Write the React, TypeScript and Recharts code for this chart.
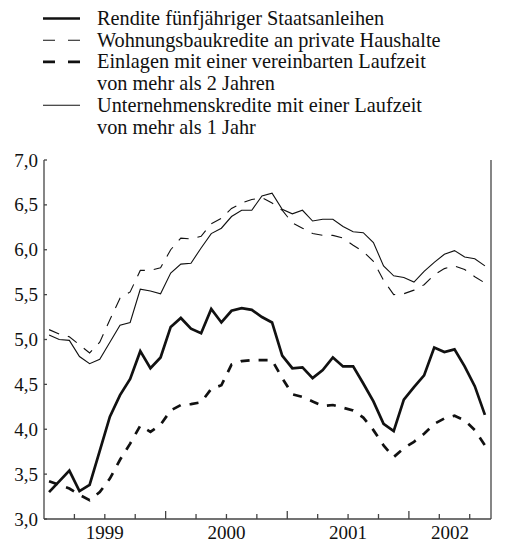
import React from 'react';
import { LineChart, Line, XAxis, YAxis, Legend } from 'recharts';

// monthly values, Jan 1999 .. Aug 2002 (percent p.a.)
const rendite = [
  3.3, 3.42, 3.54, 3.31, 3.38, 3.76, 4.14, 4.38, 4.56, 4.87, 4.68, 4.8,
  5.14, 5.24, 5.12, 5.07, 5.34, 5.19, 5.32, 5.35, 5.33, 5.25, 5.19, 4.82,
  4.68, 4.69, 4.57, 4.66, 4.8, 4.7, 4.7, 4.51, 4.31, 4.06, 3.98, 4.33,
  4.47, 4.6, 4.91, 4.86, 4.89, 4.7, 4.48, 4.16,
];
const wohnungsbau = [
  5.11, 5.06, 5.03, 4.94, 4.85, 4.97, 5.22, 5.46, 5.53, 5.77, 5.77, 5.8,
  6.0, 6.13, 6.12, 6.15, 6.29, 6.35, 6.46, 6.52, 6.56, 6.58, 6.52, 6.44,
  6.3, 6.24, 6.18, 6.16, 6.16, 6.13, 6.05, 5.98, 5.87, 5.66, 5.5, 5.51,
  5.55, 5.61, 5.72, 5.79, 5.82, 5.78, 5.7, 5.63,
];
const einlagen = [
  3.42, 3.38, 3.34, 3.27, 3.21, 3.3, 3.45, 3.66, 3.84, 4.04, 3.97, 4.05,
  4.21, 4.27, 4.28, 4.3, 4.45, 4.49, 4.72, 4.76, 4.77, 4.77, 4.77, 4.57,
  4.39, 4.36, 4.31, 4.26, 4.27, 4.24, 4.21, 4.13, 3.99, 3.82, 3.69, 3.79,
  3.86, 3.95, 4.06, 4.12, 4.15, 4.1, 3.99, 3.82,
];
const unternehmen = [
  5.05, 5.0, 4.99, 4.81, 4.73, 4.78, 4.97, 5.16, 5.19, 5.56, 5.54, 5.51,
  5.74, 5.84, 5.85, 6.02, 6.18, 6.24, 6.37, 6.44, 6.44, 6.6, 6.63, 6.45,
  6.4, 6.44, 6.32, 6.34, 6.34, 6.26, 6.2, 6.19, 6.08, 5.82, 5.71, 5.69,
  5.64, 5.76, 5.86, 5.95, 5.99, 5.92, 5.9, 5.82,
];

const years = ['1999', '2000', '2001', '2002'];
const yTicks = [3, 3.5, 4, 4.5, 5, 5.5, 6, 6.5, 7];

const X_MAX = 44.1; // axis runs a little past the last month
const FONT = "'Liberation Serif', 'Times New Roman', Times, 'DejaVu Serif', serif";
const INK = '#111';
const AXIS = '#444';

const series = [
  { key: 'rendite', name: 'Rendite fünfjähriger Staatsanleihen', width: 2.7, dash: undefined as string | undefined },
  { key: 'wohnungsbau', name: 'Wohnungsbaukredite an private Haushalte', width: 1.1, dash: '11 9' },
  { key: 'einlagen', name: 'Einlagen mit einer vereinbarten Laufzeit\nvon mehr als 2 Jahren', width: 2.7, dash: '9 9' },
  { key: 'unternehmen', name: 'Unternehmenskredite mit einer Laufzeit\nvon mehr als 1 Jahr', width: 1.1, dash: undefined },
];

const data = rendite.map((v, i) => ({
  t: i + 0.5,
  rendite: v,
  wohnungsbau: wohnungsbau[i],
  einlagen: einlagen[i],
  unternehmen: unternehmen[i],
}));

const quarterTicks: number[] = [];
for (let q = 3; q < X_MAX; q += 3) quarterTicks.push(q);
const yearPos = years.map((_, i) => {
  const start = i * 12;
  const end = Math.min(start + 12, X_MAX);
  return (start + end) / 2;
});

const textStyle = { fontFamily: FONT, fill: INK };

function XTick(props: any) {
  const { x, y, payload } = props;
  const v = payload.value;
  const yi = yearPos.indexOf(v);
  return (
    <g>
      {quarterTicks.includes(v) && (
        <line x1={x} x2={x} y1={y} y2={y - (v % 12 === 0 ? 8 : 5)} stroke={AXIS} strokeWidth={1.3} />
      )}
      {yi >= 0 && (
        <text x={x} y={y + 20} textAnchor="middle" fontSize={19} style={textStyle}>
          {years[yi]}
        </text>
      )}
    </g>
  );
}

const fmt = (v: number) => v.toFixed(1).replace('.', ',');

function LeftTick(props: any) {
  const { x, y, payload } = props;
  return (
    <g>
      <line x1={x} x2={x + 3} y1={y} y2={y} stroke={AXIS} strokeWidth={1.3} />
      <text x={x - 6} y={y + 6.5} textAnchor="end" fontSize={19} style={textStyle}>
        {fmt(payload.value)}
      </text>
    </g>
  );
}

function RightTick(props: any) {
  const { x, y, payload } = props;
  return (
    <g>
      <line x1={x} x2={x - 3} y1={y} y2={y} stroke={AXIS} strokeWidth={1.3} />
      <text x={x + 6} y={y + 6.5} textAnchor="start" fontSize={19} style={textStyle}>
        {fmt(payload.value)}
      </text>
    </g>
  );
}

function LegendBlock(props: any) {
  const { payload = [] } = props;
  const shown = new Set(payload.map((p: any) => p.dataKey));
  const rowH = 21.7;
  let line = 0;
  return (
    <svg width={528} height={140} style={{ display: 'block' }}>
      {series.filter((s) => shown.has(s.key)).map((s) => {
        const parts = s.name.split('\n');
        const cy = 18.5 + line * rowH;
        line += parts.length;
        return (
          <g key={s.key}>
            <line x1={43} x2={80} y1={cy} y2={cy} stroke={INK} strokeWidth={s.width}
              strokeDasharray={s.dash ? '12 13' : undefined} />
            {parts.map((p, k) => (
              <text key={k} x={97} y={cy + k * rowH + 6.5} fontSize={20.3} style={textStyle}>
                {p}
              </text>
            ))}
          </g>
        );
      })}
    </svg>
  );
}

export default function App() {
  return (
    <div style={{ position: 'absolute', left: 0, top: 0, width: 528, height: 542, background: '#fff', fontFamily: FONT }}>
      <LineChart width={528} height={542} data={data} margin={{ top: 160, right: 0, bottom: 0, left: 0 }}>
        <XAxis
          dataKey="t"
          type="number"
          domain={[0, X_MAX]}
          ticks={[...quarterTicks, ...yearPos.filter((p) => !quarterTicks.includes(p))]}
          interval={0}
          height={23}
          tickSize={0}
          tickMargin={0}
          tickLine={false}
          axisLine={{ stroke: AXIS, strokeWidth: 1.3 }}
          tick={<XTick />}
        />
        <YAxis
          yAxisId="left"
          domain={[3, 7]}
          ticks={yTicks}
          interval={0}
          width={44}
          tickSize={0}
          tickMargin={0}
          tickLine={false}
          axisLine={{ stroke: AXIS, strokeWidth: 1.3 }}
          tick={<LeftTick />}
        />
        <YAxis
          yAxisId="right"
          orientation="right"
          domain={[3, 7]}
          ticks={yTicks}
          interval={0}
          width={37}
          tickSize={0}
          tickMargin={0}
          tickLine={false}
          axisLine={{ stroke: AXIS, strokeWidth: 1.3 }}
          tick={<RightTick />}
        />
        <Legend
          layout="horizontal"
          verticalAlign="middle"
          align="center"
          wrapperStyle={{ top: 0, left: 0, width: 528, height: 140 }}
          content={<LegendBlock />}
        />
        {series.map((s) => (
          <Line
            key={s.key}
            yAxisId="left"
            type="linear"
            dataKey={s.key}
            name={s.name}
            stroke={INK}
            strokeWidth={s.width}
            strokeDasharray={s.dash}
            dot={false}
            activeDot={false}
            isAnimationActive={false}
          />
        ))}
      </LineChart>
    </div>
  );
}
